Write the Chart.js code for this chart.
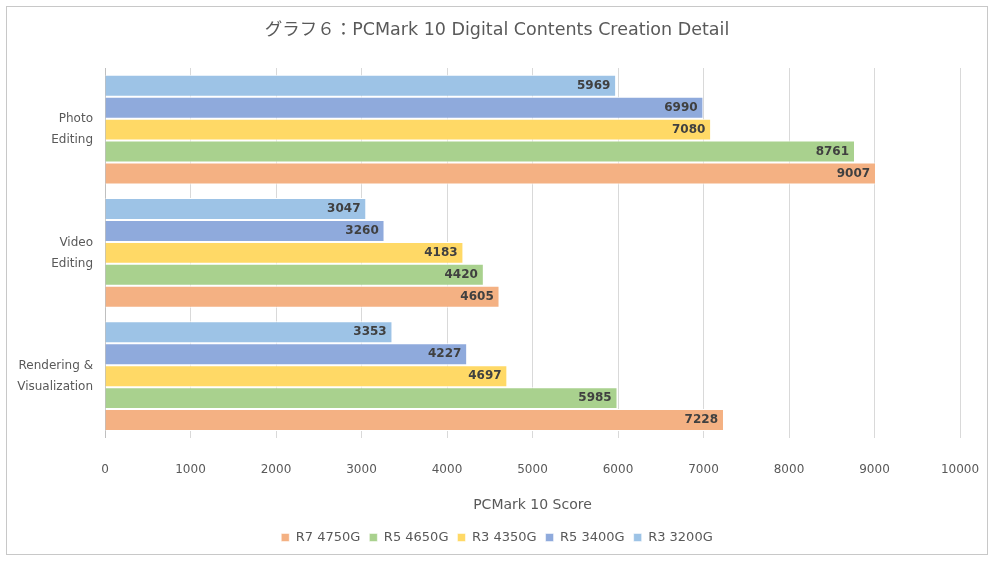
<!DOCTYPE html>
<html>
<head>
<meta charset="utf-8">
<script src="https://cdn.jsdelivr.net/npm/chart.js@4"></script>
<style>
    body { margin: 0; background: #ffffff; }
    #wrap {
        position: absolute;
        left: 6px;
        top: 6px;
        width: 980px;
        height: 547px;
        border: 1px solid #c8c8c8;
        background: #ffffff;
    }
</style>
</head>
<body>
<div id="wrap"><canvas id="chartID"></canvas></div>
<script>
const categorias = [["Photo", "Editing"], ["Video", "Editing"], ["Rendering &", "Visualization"]];
const r3_3200g = [5969, 3047, 3353];
const r5_3400g = [6990, 3260, 4227];
const r3_4350g = [7080, 4183, 4697];
const r5_4650g = [8761, 4420, 5985];
const r7_4750g = [9007, 4605, 7228];
const ticksX = [0, 1000, 2000, 3000, 4000, 5000, 6000, 7000, 8000, 9000, 10000];

const fonte = "'DejaVu Sans', 'Noto Sans CJK JP', sans-serif";

// rotulos dentro da ponta de cada barra
const rotulosPlugin = {
    id: 'rotulos',
    afterDatasetsDraw(chart) {
        const ctx = chart.ctx;
        ctx.save();
        ctx.font = "bold 12px " + fonte;
        ctx.fillStyle = '#404040';
        ctx.textAlign = 'right';
        ctx.textBaseline = 'middle';
        chart.data.datasets.forEach(function (ds, i) {
            const meta = chart.getDatasetMeta(i);
            meta.data.forEach(function (bar, j) {
                ctx.fillText(ds.data[j], bar.x - 5, bar.y);
            });
        });
        ctx.restore();
    }
};

function novoDataset(label, data, cor) {
    return {
        label: label,
        data: data,
        backgroundColor: cor,
        borderColor: '#ffffff',
        borderWidth: { top: 1, bottom: 1, right: 0, left: 0 },
        borderSkipped: false,
        barPercentage: 1,
        categoryPercentage: 0.89
    };
}

new Chart(document.getElementById('chartID'), {
    type: 'bar',
    data: {
        labels: categorias,
        datasets: [
            novoDataset('R3 3200G', r3_3200g, '#9DC3E6'),
            novoDataset('R5 3400G', r5_3400g, '#8FAADC'),
            novoDataset('R3 4350G', r3_4350g, '#FFD966'),
            novoDataset('R5 4650G', r5_4650g, '#A9D18E'),
            novoDataset('R7 4750G', r7_4750g, '#F4B183')
        ]
    },
    options: {
        indexAxis: 'y',
        responsive: true,
        maintainAspectRatio: false,
        animation: false,
        layout: {
            padding: { left: 0, right: 0, top: 10, bottom: 0 }
        },
        plugins: {
            title: {
                display: true,
                text: 'グラフ６：PCMark 10 Digital Contents Creation Detail',
                color: '#595959',
                font: { family: fonte, size: 17.5, weight: 'normal' },
                padding: { top: 3, bottom: 27 }
            },
            legend: {
                position: 'bottom',
                reverse: true,
                labels: {
                    boxWidth: 8,
                    boxHeight: 8,
                    color: '#595959',
                    font: { family: fonte, size: 13 },
                    padding: 9
                }
            },
            tooltip: { enabled: false }
        },
        scales: {
            x: {
                min: 0,
                max: 10000,
                afterBuildTicks: function (axis) {
                    axis.ticks = ticksX.map(v => ({ value: v }));
                },
                afterFit: function (axis) {
                    axis.paddingRight = 27;
                },
                ticks: {
                    color: '#595959',
                    font: { family: fonte, size: 12 },
                    padding: 4,
                    callback: function (v) { return String(v); }
                },
                grid: {
                    color: '#d9d9d9',
                    drawTicks: true,
                    tickLength: 21,
                    tickColor: 'rgba(0,0,0,0)'
                },
                border: { display: false },
                title: {
                    display: true,
                    text: 'PCMark 10 Score',
                    color: '#595959',
                    font: { family: fonte, size: 14 },
                    padding: { top: 16, bottom: 8 }
                }
            },
            y: {
                afterFit: function (axis) {
                    axis.width = 98;
                },
                ticks: {
                    color: '#595959',
                    font: { family: fonte, size: 12, lineHeight: 1.75 },
                    padding: 4
                },
                grid: { display: false },
                border: { color: '#bfbfbf' }
            }
        }
    },
    plugins: [rotulosPlugin]
});
</script>
</body>
</html>
